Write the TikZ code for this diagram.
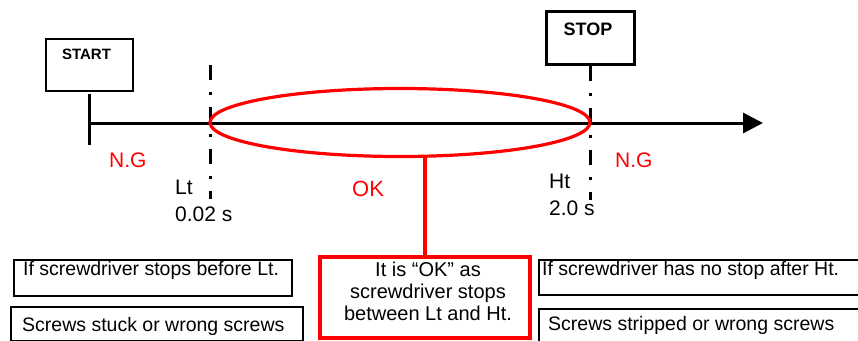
\documentclass[tikz,border=0pt]{standalone}
\usepackage{fontspec}
\setmainfont{Liberation Sans}
\usetikzlibrary{arrows.meta,shapes.geometric}
\tikzset{
  lbl/.style={inner sep=0pt, anchor=base west, font=\fontsize{21}{21}\selectfont},
  nglbl/.style={lbl, text=red},
  boxtext/.style={inner sep=0pt, anchor=base west, font=\fontsize{19.5}{22}\selectfont},
  titletext/.style={inner sep=0pt, anchor=base, font=\bfseries\fontsize{#1}{#1}\selectfont},
  plainbox/.style={draw=black, line width=2pt, rectangle, inner sep=0pt, anchor=north west},
  markbox/.style={draw=black, rectangle, inner sep=0pt},
  axisline/.style={line width=3pt, draw=black},
  dashdot/.style={line width=3pt, dash pattern=on 15pt off 12pt on 3pt off 12pt},
  redline/.style={draw=red, line width=3.2pt},
}
\begin{document}
\begin{tikzpicture}[x=1pt,y=-1pt]
\useasboundingbox (0,0) rectangle (858,340);
\clip (0,0) rectangle (858,340);
\fill[white] (0,0) rectangle (858,340);

% START / STOP boxes
\node[markbox, line width=2pt, minimum width=87pt, minimum height=52pt] (start) at (89.5,65) {};
\node[titletext=15] (starttxt) at (86.5,59) {START};
\node[markbox, line width=3pt, minimum width=88pt, minimum height=53pt] (stop) at (590,37.5) {};
\node[titletext=18] (stoptxt) at (588,35) {STOP};

% time axis
\coordinate (t0) at (89,123);
\coordinate (tend) at (763,123);
\coordinate (ticktop) at (89,94);
\coordinate (tickbot) at (89,145);
\draw[axisline] (ticktop) -- (tickbot);
\draw[axisline, -{Triangle[length=20pt,width=20pt]}] (t0) -- (tend);

% Lt and Ht markers
\coordinate (lttop) at (210,65);
\coordinate (ltbot) at (210,199);
\coordinate (htbot) at (590,200);
\draw[dashdot] (lttop) -- (ltbot);
\draw[dashdot] (stop.south) -- (htbot);

% OK ellipse
\node[ellipse, redline, minimum width=380pt, minimum height=68pt, inner sep=0pt] (okell) at (400,122.5) {};

% labels
\node[nglbl] (ngl) at (109,167) {N.G};
\node[nglbl] (ngr) at (615,167) {N.G};
\node[lbl] (lt) at (175,194) {Lt};
\node[lbl] (ltv) at (175,221) {0.02 s};
\node[lbl] (ht) at (549,188) {Ht};
\node[lbl] (htv) at (549,215) {2.0 s};
\node[inner sep=0pt, anchor=base west, font=\fontsize{22}{22}\selectfont, text=red] (oklbl) at (352,196) {OK};

% OK box
\node[rectangle, redline, minimum width=210pt, minimum height=81pt, inner sep=0pt] (okbox) at (425,297.5) {};
\node[inner sep=0pt, align=center, font=\fontsize{20}{22}\selectfont] (oktext) at (428,291.5) {It is “OK” as\\screwdriver stops\\between Lt and Ht.};
\draw[redline] (okbox.north) -- (okbox.north |- okell.south);

% bottom boxes
\node[plainbox, minimum width=278pt, minimum height=36pt] (lb1) at (13,259) {};
\node[boxtext] (lb1t) at (23,275) {If screwdriver stops before Lt.};
\node[plainbox, minimum width=292pt, minimum height=34pt] (lb2) at (10,306) {};
\node[boxtext] (lb2t) at (22,331) {Screws stuck or wrong screws};
\node[plainbox, minimum width=340pt, minimum height=35pt] (rb1) at (538,259) {};
\node[boxtext] (rb1t) at (542,275) {If screwdriver has no stop after Ht.};
\node[plainbox, minimum width=340pt, minimum height=40pt] (rb2) at (538,308) {};
\node[boxtext] (rb2t) at (548,330) {Screws stripped or wrong screws};
\end{tikzpicture}
\end{document}
